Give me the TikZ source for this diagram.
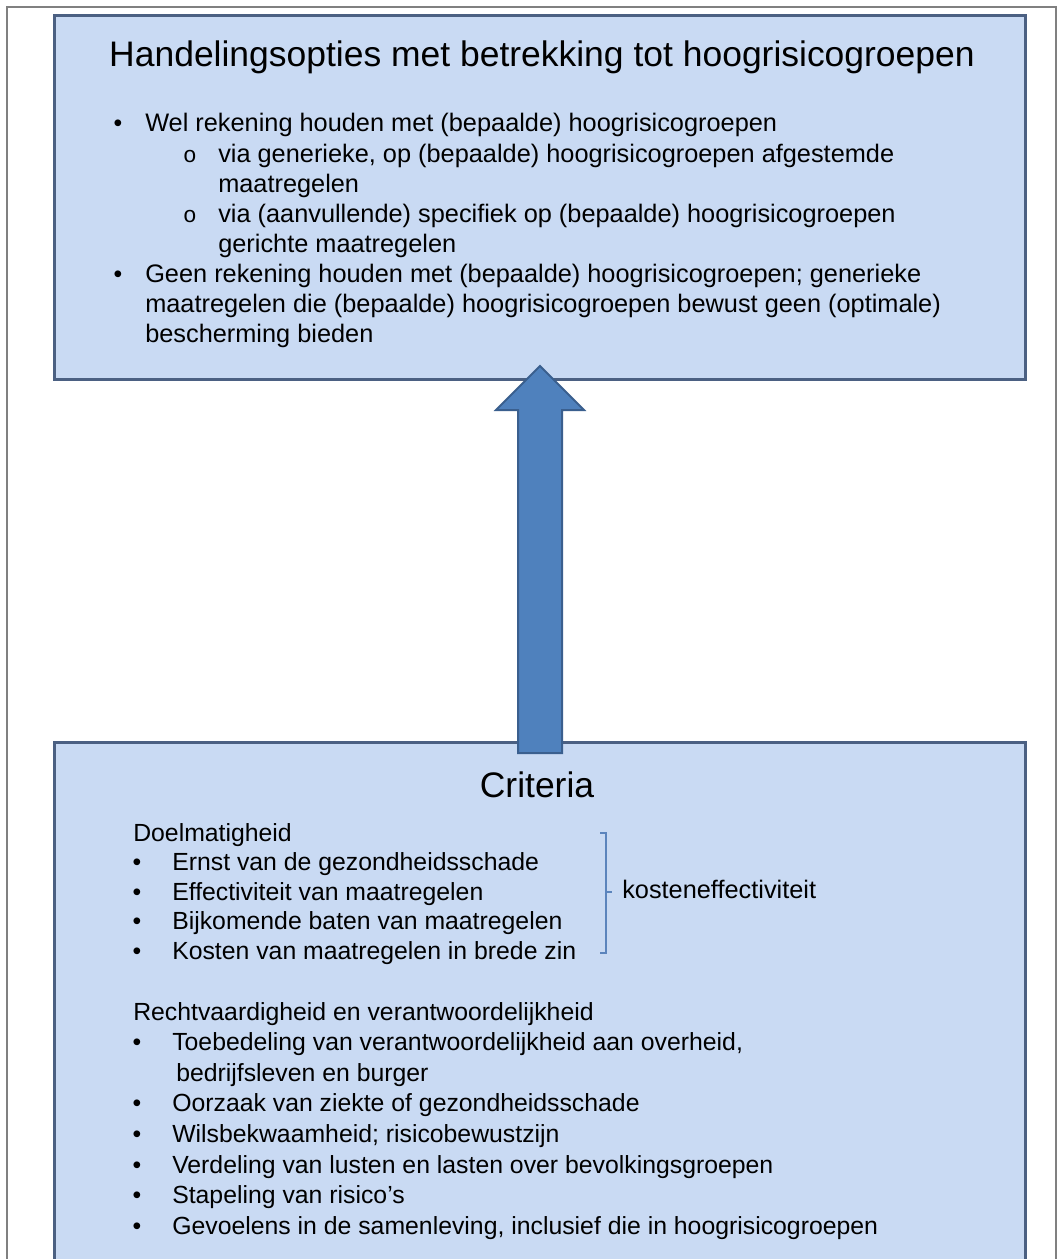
\documentclass[tikz,border=0pt]{standalone}
\usepackage{fontspec}
\setmainfont{Liberation Sans}
\newfontfamily\bulmono{Liberation Mono}
\usetikzlibrary{calc}
\definecolor{boxfill}{HTML}{C9DAF3}
\definecolor{boxline}{HTML}{4B6082}
\definecolor{arrowfill}{HTML}{4F81BD}
\definecolor{arrowline}{HTML}{3A5F8E}
\definecolor{framecol}{HTML}{808080}
\definecolor{bracecol}{HTML}{5B84BC}
\begin{document}
\begin{tikzpicture}[x=0.75pt,y=-0.75pt,
  box/.style={draw=boxline, line width=2.25pt, fill=boxfill, inner sep=0pt},
  heading/.style={anchor=base, inner sep=0pt, font=\fontsize{26.6}{30}\selectfont},
  txt/.style={anchor=base west, inner sep=0pt, font=\fontsize{19}{23}\selectfont},
  btxt/.style={anchor=base west, inner sep=0pt, font=\fontsize{18.6}{23}\selectfont},
  bul/.style={anchor=base, inner sep=0pt, font=\fontsize{18.6}{23}\selectfont},
  subbul/.style={anchor=base, inner sep=0pt, font=\bulmono\fontsize{17}{20}\selectfont},
  blockarrow/.style={draw=arrowline, line width=1.5pt, fill=arrowfill, line join=miter},
  bracestyle/.style={draw=bracecol, line width=0.8pt}
]
\useasboundingbox (0,0) rectangle (1063,1259);
\fill[white] (0,0) rectangle (1063,1259);
\draw[framecol, line width=1.5pt] (7,1270) -- (7,7) -- (1056,7) -- (1056,1270);

% boxes
\node[box, anchor=north west, minimum width=728.25pt, minimum height=273pt] (topbox) at (53,14) {};
\node[box, anchor=north west, minimum width=728.25pt, minimum height=420pt] (botbox) at (53,741) {};

% arrow from criteria box to options box
\coordinate (tip) at ($(topbox.south)+(0,-15)$);
\coordinate (tail) at ($(botbox.north)+(0,12)$);
\draw[blockarrow] (tip) -- ++(44,44) -- ++(-22,0) -- ($(tail)+(22,0)$) -- ($(tail)+(-22,0)$)
   -- ($(tip)+(-22,44)$) -- ++(-22,0) -- cycle;

% top box text
\node[heading] (ttl) at (542,67) {Handelingsopties met betrekking tot hoogrisicogroepen};
\node[bul] (b1) at (118,132) {•};
\node[txt] (t1) at (145,132) {Wel rekening houden met (bepaalde) hoogrisicogroepen};
\node[subbul] (s1) at (190,162) {o};
\node[txt] (t2) at (218,162) {via generieke, op (bepaalde) hoogrisicogroepen afgestemde};
\node[txt] (t3) at (218,192) {maatregelen};
\node[subbul] (s2) at (190,222) {o};
\node[txt] (t4) at (218,222) {via (aanvullende) specifiek op (bepaalde) hoogrisicogroepen};
\node[txt] (t5) at (218,252) {gerichte maatregelen};
\node[bul] (b2) at (118,282) {•};
\node[txt] (t6) at (145,282) {Geen rekening houden met (bepaalde) hoogrisicogroepen; generieke};
\node[txt] (t7) at (145,312) {maatregelen die (bepaalde) hoogrisicogroepen bewust geen (optimale)};
\node[txt] (t8) at (145,342) {bescherming bieden};

% bottom box text
\node[heading] (crit) at (537,797) {Criteria};
\node[btxt] (d0) at (133,841) {Doelmatigheid};
\node[bul] (db1) at (137,870.5) {•};
\node[btxt] (d1) at (172,870.5) {Ernst van de gezondheidsschade};
\node[bul] (db2) at (137,900) {•};
\node[btxt] (d2) at (172,900) {Effectiviteit van maatregelen};
\node[bul] (db3) at (137,929.5) {•};
\node[btxt] (d3) at (172,929.5) {Bijkomende baten van maatregelen};
\node[bul] (db4) at (137,959) {•};
\node[btxt] (d4) at (172,959) {Kosten van maatregelen in brede zin};

\node[btxt] (r0) at (133,1020) {Rechtvaardigheid en verantwoordelijkheid};
\node[bul] (rb1) at (137,1050) {•};
\node[btxt] (r1) at (172,1050) {Toebedeling van verantwoordelijkheid aan overheid,};
\node[btxt] (r1b) at (176,1081) {bedrijfsleven en burger};
\node[bul] (rb2) at (137,1111.5) {•};
\node[btxt] (r2) at (172,1111.5) {Oorzaak van ziekte of gezondheidsschade};
\node[bul] (rb3) at (137,1142) {•};
\node[btxt] (r3) at (172,1142) {Wilsbekwaamheid; risicobewustzijn};
\node[bul] (rb4) at (137,1173) {•};
\node[btxt] (r4) at (172,1173) {Verdeling van lusten en lasten over bevolkingsgroepen};
\node[bul] (rb5) at (137,1203.5) {•};
\node[btxt] (r5) at (172,1203.5) {Stapeling van risico’s};
\node[bul] (rb6) at (137,1234) {•};
\node[btxt] (r6) at (172,1234) {Gevoelens in de samenleving, inclusief die in hoogrisicogroepen};

% brace and label
\node[btxt, font=\fontsize{19}{23}\selectfont] (ke) at (622,898) {kosteneffectiviteit};
\coordinate (brtop) at (606,833);
\coordinate (brbot) at (606,953);
\coordinate (brmid) at (606,892);
\draw[bracestyle] ($(brtop)+(-6,0)$) -- (brtop) -- (brbot) -- ($(brbot)+(-6,0)$);
\draw[bracestyle] (brmid) -- ($(brmid)+(6,0)$);
\end{tikzpicture}
\end{document}
